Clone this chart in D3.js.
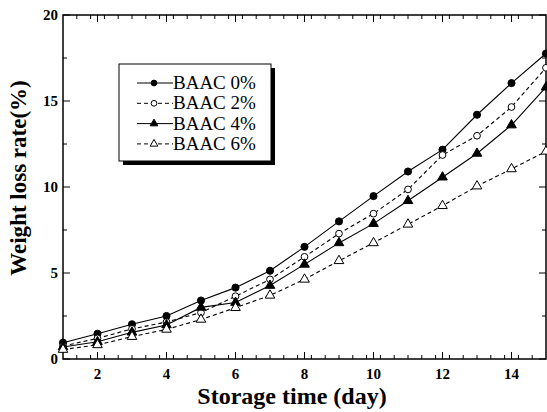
<!DOCTYPE html>
<html><head><meta charset="utf-8">
<script src="https://cdn.jsdelivr.net/npm/d3@7"></script>
<style>body{margin:0;background:#fff}svg{display:block}</style>
</head><body>
<script>
const days = [1,2,3,4,5,6,7,8,9,10,11,12,13,14,15];
const baac0 = [0.95,1.47,2.02,2.5,3.4,4.15,5.13,6.52,8.0,9.47,10.9,12.17,14.2,16.04,17.76];
const baac2 = [0.75,1.2,1.75,2.15,2.7,3.65,4.63,5.94,7.29,8.45,9.86,11.86,12.98,14.65,16.93];
const baac4 = [0.7,1.0,1.55,1.98,3.0,3.28,4.27,5.5,6.75,7.87,9.2,10.57,11.95,13.6,15.8];
const baac6 = [0.55,0.82,1.3,1.72,2.3,2.98,3.7,4.63,5.71,6.75,7.83,8.91,10.05,11.05,12.07];
const seriesNames = ["BAAC 0%","BAAC 2%","BAAC 4%","BAAC 6%"];
const xTicks = [2,4,6,8,10,12,14];
const yTicks = [0,5,10,15,20];

const W=547,H=412;
const L=63,R=546,T=15,B=359;
const svg=d3.select("body").append("svg").attr("width",W).attr("height",H);
const x=d3.scaleLinear().domain([1,15]).range([L,R]);
const y=d3.scaleLinear().domain([0,20]).range([B,T]);
const font="'Liberation Serif','Times New Roman',serif";

// frame
svg.append("rect").attr("x",L).attr("y",T).attr("width",R-L).attr("height",B-T)
  .attr("fill","none").attr("stroke","#000").attr("stroke-width",1.5);

// ticks
const xMinor=d3.range(1.4,15,0.4).filter(v=>Math.abs(v/2-Math.round(v/2))>0.01);
const yMinor=[2.5,7.5,12.5,17.5];
const tk=svg.append("g").attr("stroke","#000").attr("stroke-width",1);
xTicks.forEach(v=>{
  tk.append("line").attr("x1",x(v)).attr("x2",x(v)).attr("y1",B).attr("y2",B-7);
  tk.append("line").attr("x1",x(v)).attr("x2",x(v)).attr("y1",T).attr("y2",T+7);
});
xMinor.forEach(v=>{
  tk.append("line").attr("x1",x(v)).attr("x2",x(v)).attr("y1",B).attr("y2",B-4);
  tk.append("line").attr("x1",x(v)).attr("x2",x(v)).attr("y1",T).attr("y2",T+4);
});
yTicks.forEach(v=>{
  tk.append("line").attr("x1",L).attr("x2",L+7).attr("y1",y(v)).attr("y2",y(v));
  tk.append("line").attr("x1",R).attr("x2",R-7).attr("y1",y(v)).attr("y2",y(v));
});
yMinor.forEach(v=>{
  tk.append("line").attr("x1",L).attr("x2",L+4).attr("y1",y(v)).attr("y2",y(v));
  tk.append("line").attr("x1",R).attr("x2",R-4).attr("y1",y(v)).attr("y2",y(v));
});

// tick labels
svg.append("g").selectAll("text").data(xTicks).join("text")
  .attr("x",d=>x(d)).attr("y",B+20).attr("text-anchor","middle")
  .attr("font-family",font).attr("font-size",15).attr("font-weight","bold").text(d=>d);
svg.append("g").selectAll("text").data(yTicks).join("text")
  .attr("x",L-5).attr("y",d=>y(d)+5).attr("text-anchor","end")
  .attr("font-family",font).attr("font-size",15).attr("font-weight","bold").text(d=>d);

// axis titles
svg.append("text").attr("x",292).attr("y",404).attr("text-anchor","middle")
  .attr("font-family",font).attr("font-size",24).attr("font-weight","bold").text("Storage time (day)");
svg.append("text").attr("transform","translate(26,178) rotate(-90)").attr("text-anchor","middle")
  .attr("font-family",font).attr("font-size",23).attr("font-weight","bold").text("Weight loss rate(%)");

// series
const allData=[baac0,baac2,baac4,baac6];
const dashes=[null,"4,3",null,"4,3"];
const line=d3.line().x((d,i)=>x(days[i])).y(d=>y(d));
const sym=[d3.symbolCircle,d3.symbolCircle,d3.symbolTriangle,d3.symbolTriangle];
const fills=["#000","#fff","#000","#fff"];
const sizes=[40,36,40,40];
const plot=svg.append("g");
allData.forEach((s,k)=>{
  plot.append("path").attr("d",line(s)).attr("fill","none").attr("stroke","#000")
    .attr("stroke-width",1.1).attr("stroke-dasharray",dashes[k]);
});
allData.forEach((s,k)=>{
  plot.append("g").selectAll("path").data(s).join("path")
    .attr("transform",(d,i)=>`translate(${x(days[i])},${y(d)})`)
    .attr("d",d3.symbol().type(sym[k]).size(sizes[k]))
    .attr("fill",fills[k]).attr("stroke","#000").attr("stroke-width",1);
});

// legend
const lg=svg.append("g");
lg.append("rect").attr("x",123).attr("y",68).attr("width",152).attr("height",97).attr("fill","#000");
lg.append("rect").attr("x",119).attr("y",64).attr("width",152).attr("height",97)
  .attr("fill","#fff").attr("stroke","#000").attr("stroke-width",1);
seriesNames.forEach((n,k)=>{
  const yy=83+k*20.3;
  lg.append("line").attr("x1",137).attr("x2",173).attr("y1",yy).attr("y2",yy)
    .attr("stroke","#000").attr("stroke-width",1).attr("stroke-dasharray",dashes[k]?"4,3":null);
  lg.append("path").attr("transform",`translate(154,${yy})`)
    .attr("d",d3.symbol().type(sym[k]).size(26)).attr("fill",fills[k]).attr("stroke","#000");
  lg.append("text").attr("x",173).attr("y",yy+6).attr("font-family",font).attr("font-size",19).text(n);
});
</script>
</body></html>
